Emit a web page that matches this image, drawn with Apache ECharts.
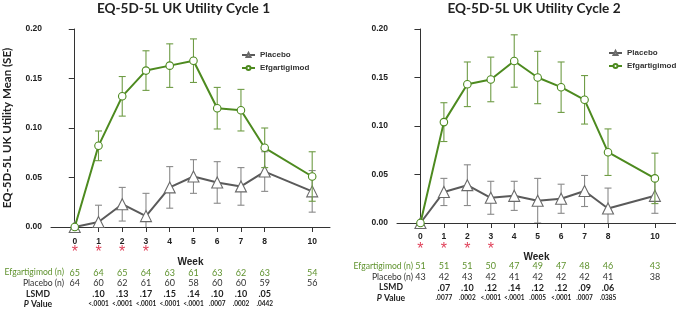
<!DOCTYPE html>
<html><head><meta charset="utf-8">
<script src="https://cdn.jsdelivr.net/npm/echarts@6/dist/echarts.min.js"></script>
<style>html,body{margin:0;padding:0;background:#fff}#c{width:676px;height:309px}</style>
</head><body><div id="c"></div>
<script>
const weeks = [0, 1, 2, 3, 4, 5, 6, 7, 8, 10];
const yTicks = [0, 0.05, 0.10, 0.15, 0.20];

// Cycle 1
const efg1 = [0, 0.082, 0.132, 0.158, 0.163, 0.168, 0.120, 0.118, 0.080, 0.051];
const efg1SE = [0, 0.015, 0.020, 0.020, 0.022, 0.022, 0.021, 0.021, 0.020, 0.025];
const pla1 = [0, 0.005, 0.023, 0.011, 0.040, 0.051, 0.045, 0.041, 0.056, 0.036];
const pla1SE = [0, 0.017, 0.017, 0.023, 0.021, 0.017, 0.021, 0.019, 0.020, 0.021];
const nEfg1 = ['65', '64', '65', '64', '63', '61', '63', '62', '63', '54'];
const nPla1 = ['64', '60', '62', '61', '60', '58', '60', '60', '59', '56'];
const lsmd1 = ['', '.10', '.13', '.17', '.15', '.14', '.10', '.10', '.05', ''];
const pval1 = ['', '<.0001', '<.0001', '<.0001', '<.0001', '<.0001', '.0007', '.0002', '.0442', ''];
const star1 = ['*', '*', '*', '*', '', '', '', '', '', ''];

// Cycle 2
const efg2 = [0, 0.104, 0.143, 0.148, 0.167, 0.150, 0.140, 0.127, 0.073, 0.046];
const efg2SE = [0, 0.020, 0.023, 0.023, 0.027, 0.027, 0.026, 0.025, 0.024, 0.026];
const pla2 = [0, 0.032, 0.039, 0.026, 0.028, 0.023, 0.025, 0.033, 0.015, 0.028];
const pla2SE = [0, 0.014, 0.021, 0.017, 0.015, 0.023, 0.015, 0.016, 0.021, 0.018];
const nEfg2 = ['51', '51', '51', '50', '47', '49', '47', '48', '46', '43'];
const nPla2 = ['43', '42', '43', '42', '41', '42', '42', '42', '41', '38'];
const lsmd2 = ['', '.07', '.10', '.12', '.14', '.12', '.12', '.09', '.06', ''];
const pval2 = ['', '.0077', '.0002', '<.0001', '<.0001', '.0005', '<.0001', '.0007', '.0385', ''];
const star2 = ['*', '*', '*', '*', '', '', '', '', '', ''];

const titles = ['EQ-5D-5L UK Utility Cycle 1', 'EQ-5D-5L UK Utility Cycle 2'];
const yName = 'EQ-5D-5L UK Utility Mean (SE)';
const rowLabels = ['Efgartigimod (n)', 'Placebo (n)', 'LSMD', 'P Value'];

const GREEN = '#4d8a1f', GREEN_ERR = '#6f9c45', GREEN_TXT = '#5f922e';
const GRAY = '#5a5a5a', GRAY_ERR = '#8a8a8a';
const RED = '#e0435b';
const TXT = '#222';

const grids = [
  {left: 48, top: 29, width: 282, height: 198, xmax: 10.75},
  {left: 397, top: 29, width: 279, height: 194, xmax: 10.9}
];

const lat = 'Lato, "Open Sans", sans-serif';
const ari = '"Liberation Sans", Arial, sans-serif';

function rowAxis(gi, arr, center, style) {
  const g = grids[gi];
  const bottom = g.top + g.height;
  return {
    type: 'value', gridIndex: gi, position: 'bottom', min: -1, max: g.xmax,
    offset: 0,
    axisLine: {show: false}, axisTick: {show: false}, splitLine: {show: false},
    axisLabel: Object.assign({
      customValues: weeks, margin: center - bottom, verticalAlign: 'middle',
      formatter: v => { const i = weeks.indexOf(v); return i >= 0 ? arr[i] : ''; }
    }, style)
  };
}

const xAxes = [];
const rows = [
  [star1, nEfg1, nPla1, lsmd1, pval1],
  [star2, nEfg2, nPla2, lsmd2, pval2]
];
const rowCenters = [
  [253, 272.7, 283.3, 294, 304.3],
  [250, 266, 277, 287.7, 298]
];
const weekCenters = [241.7, 237];
const weekNameGap = [30, 29.5];
grids.forEach((g, gi) => {
  xAxes.push({
    type: 'value', gridIndex: gi, min: -1, max: g.xmax,
    name: 'Week', nameLocation: 'middle', nameGap: weekNameGap[gi],
    nameTextStyle: {fontFamily: ari, fontWeight: 'bold', fontSize: 10, color: TXT},
    axisLine: {show: true, lineStyle: {color: '#333', width: 1}},
    axisTick: {show: true, customValues: weeks, length: 5, lineStyle: {color: '#333'}},
    splitLine: {show: false},
    axisLabel: {customValues: weeks, margin: weekCenters[gi] - (g.top + g.height), verticalAlign: 'middle',
      fontFamily: ari, fontWeight: 'bold', fontSize: 8.5, color: TXT}
  });
  const r = rows[gi], c = rowCenters[gi];
  xAxes.push(rowAxis(gi, r[0], c[0], {fontFamily: ari, fontSize: 16, color: RED}));
  xAxes.push(rowAxis(gi, r[1], c[1], {fontFamily: lat, fontSize: 9, color: GREEN_TXT}));
  xAxes.push(rowAxis(gi, r[2], c[2], {fontFamily: lat, fontSize: 9, color: '#333'}));
  xAxes.push(rowAxis(gi, r[3], c[3], {fontFamily: lat, fontSize: 9, fontWeight: 'bold', color: TXT}));
  xAxes.push(rowAxis(gi, r[4], c[4], {fontFamily: lat, fontSize: 6.5, fontWeight: 'bold', color: TXT}));
});

const yAxes = grids.map((g, gi) => ({
  type: 'value', gridIndex: gi, min: 0, max: 0.2, interval: 0.05,
  name: gi === 0 ? yName : '', nameLocation: 'middle', nameGap: 38,
  nameTextStyle: {fontFamily: lat, fontWeight: 'bold', fontSize: 11.5, color: TXT},
  axisLine: {show: true, lineStyle: {color: '#333', width: 1}},
  axisTick: {show: true, length: 6, lineStyle: {color: '#333'}},
  splitLine: {show: false},
  axisLabel: {margin: 9, fontFamily: ari, fontWeight: 'bold', fontSize: 8.5, color: TXT,
    formatter: v => v.toFixed(2)}
}));

function errRender(color) {
  return function (params, api) {
    const x = api.value(0), lo = api.value(1), hi = api.value(2);
    if (hi === lo) return null;
    const a = api.coord([x, hi]), b = api.coord([x, lo]);
    const w = 3.5;
    const st = {stroke: color, lineWidth: 1.1};
    return {type: 'group', children: [
      {type: 'line', shape: {x1: a[0], y1: a[1], x2: b[0], y2: b[1]}, style: st},
      {type: 'line', shape: {x1: a[0] - w, y1: a[1], x2: a[0] + w, y2: a[1]}, style: st},
      {type: 'line', shape: {x1: b[0] - w, y1: b[1], x2: b[0] + w, y2: b[1]}, style: st}
    ]};
  };
}

const seriesDefs = [
  {gi: 0, name: 'Placebo', m: pla1, se: pla1SE},
  {gi: 0, name: 'Efgartigimod', m: efg1, se: efg1SE},
  {gi: 1, name: 'Placebo', m: pla2, se: pla2SE},
  {gi: 1, name: 'Efgartigimod', m: efg2, se: efg2SE}
];
const series = [];
seriesDefs.forEach(d => {
  const isE = d.name === 'Efgartigimod';
  const xi = d.gi * 6;
  series.push({
    type: 'custom', name: d.name + ' SE', xAxisIndex: xi, yAxisIndex: d.gi, clip: true,
    renderItem: errRender(isE ? GREEN_ERR : GRAY_ERR), silent: true,
    z: isE ? 3 : 1,
    data: weeks.map((w, i) => [w, d.m[i] - d.se[i], d.m[i] + d.se[i]])
  });
});
seriesDefs.forEach(d => {
  const isE = d.name === 'Efgartigimod';
  const xi = d.gi * 6;
  series.push({
    type: 'line', name: d.name, xAxisIndex: xi, yAxisIndex: d.gi,
    data: weeks.map((w, i) => [w, d.m[i]]),
    symbol: isE ? 'circle' : 'triangle', symbolSize: isE ? 7.5 : 11,
    showAllSymbol: true,
    lineStyle: {color: isE ? GREEN : GRAY, width: 2},
    itemStyle: {color: '#fff', borderColor: isE ? GREEN : '#6a6a6a', borderWidth: 1.1},
    z: isE ? 4 : 2
  });
});

const legendCommon = {
  orient: 'vertical', itemWidth: 13, itemHeight: 5, itemGap: 5,
  data: ['Placebo', 'Efgartigimod'],
  textStyle: {fontFamily: ari, fontWeight: 'bold', fontSize: 8, color: '#333'},
  selectedMode: false
};

const graphics = [];
const titleCx = [183.5, 534];
titles.forEach((t, i) => graphics.push({
  type: 'text', x: titleCx[i], y: 9,
  style: {text: t, fontFamily: lat, fontWeight: 'bold', fontSize: 13.6, fill: '#222', align: 'center', verticalAlign: 'middle'}
}));
const labelPos = [
  {right: 64, center: 38},
  {right: 413, center: 391}
];
[0, 1].forEach(gi => {
  const c = rowCenters[gi];
  rowLabels.forEach((t, k) => {
    const isP = k === 3;
    const fs = 8.6;
    const st = {
      fontFamily: lat, fontSize: fs, fill: k === 0 ? GREEN_TXT : (k === 1 ? '#333' : TXT),
      fontWeight: k >= 2 ? 'bold' : 'normal',
      align: k >= 2 ? 'center' : 'right', verticalAlign: 'middle'
    };
    if (isP) {
      st.rich = {i: {fontStyle: 'italic', fontWeight: 'bold', fontFamily: lat, fontSize: fs, fill: TXT}, n: {fontWeight: 'bold', fontFamily: lat, fontSize: fs, fill: TXT}};
      st.text = '{i|P} {n|Value}';
    } else st.text = t;
    graphics.push({type: 'text', x: k >= 2 ? labelPos[gi].center : labelPos[gi].right, y: c[k + 1], style: st});
  });
});

const chart = echarts.init(document.getElementById('c'), null, {renderer: 'canvas'});
chart.setOption({
  animation: false,
  backgroundColor: '#fff',
  grid: grids.map(g => ({left: g.left, top: g.top, width: g.width, height: g.height, containLabel: false})),
  xAxis: xAxes,
  yAxis: yAxes,
  legend: [
    Object.assign({left: 236, top: 46}, legendCommon),
    Object.assign({left: 603, top: 44}, legendCommon)
  ],
  series: series,
  graphic: graphics
});
</script></body></html>
